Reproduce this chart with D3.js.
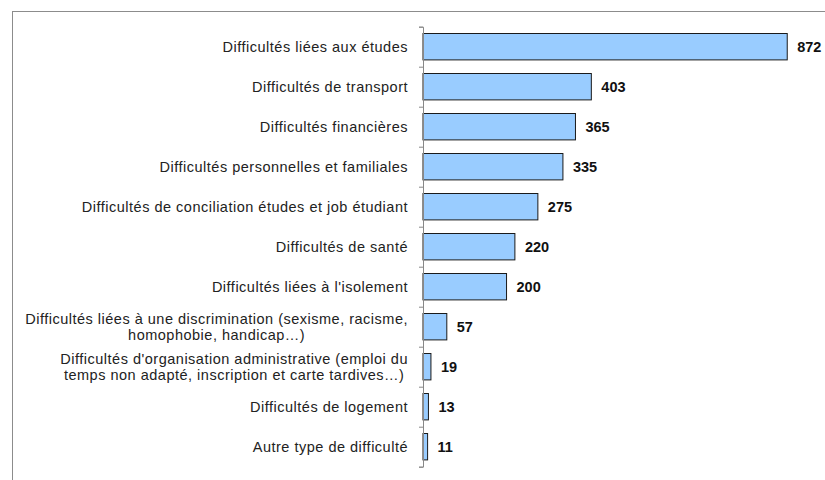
<!DOCTYPE html>
<html><head><meta charset="utf-8">
<script src="https://cdn.jsdelivr.net/npm/d3@7"></script>
<style>body{margin:0;background:#fff;} svg{display:block;}</style>
</head><body>
<svg id="c" width="825" height="480"></svg>
<script>
const categories = [
  ["Difficultés liées aux études"],
  ["Difficultés de transport"],
  ["Difficultés financières"],
  ["Difficultés personnelles et familiales"],
  ["Difficultés de conciliation études et job étudiant"],
  ["Difficultés de santé"],
  ["Difficultés liées à l'isolement"],
  ["Difficultés liées à une discrimination (sexisme, racisme,", "homophobie, handicap…)"],
  ["Difficultés d'organisation administrative (emploi du", "temps non adapté, inscription et carte tardives…)"],
  ["Difficultés de logement"],
  ["Autre type de difficulté"]
];
const values = [872, 403, 365, 335, 275, 220, 200, 57, 19, 13, 11];

const svg = d3.select("#c");
const font = "'Liberation Sans', Arial, sans-serif";
svg.append("rect").attr("x", 12.5).attr("y", 11.5).attr("width", 840).attr("height", 500)
  .attr("fill", "#fff").attr("stroke", "#8c8c8c").attr("stroke-width", 1);

const x0 = 423;
const x = d3.scaleLinear().domain([0, 1000]).range([x0, x0 + 417.7]);
const y = d3.scaleBand().domain(d3.range(categories.length)).range([26.7, 466.7])
  .paddingInner(0.34).paddingOuter(0.17);

const g = svg.append("g");
g.selectAll("rect.bar").data(values).join("rect").attr("class", "bar")
  .attr("x", x(0)).attr("y", (d, i) => y(i)).attr("width", d => x(d) - x(0))
  .attr("height", y.bandwidth()).attr("fill", "#99ccff").attr("stroke", "#1a1a1a").attr("stroke-width", 1);

const axis = d3.axisLeft(d3.scaleLinear().domain([0, categories.length]).range([26.7, 466.7]))
  .ticks(categories.length).tickSize(4).tickFormat("");
const ag = svg.append("g").attr("transform", `translate(${x0},0)`).call(axis);
ag.select(".domain").attr("stroke", "#888");
ag.selectAll(".tick line").attr("stroke", "#888");

g.selectAll("text.val").data(values).join("text").attr("class", "val")
  .attr("x", d => x(d) + 10).attr("y", (d, i) => y(i) + y.bandwidth() / 2)
  .attr("dy", "0.36em").attr("font-family", font).attr("font-weight", "bold")
  .attr("font-size", 14.5).attr("fill", "#111").text(d => d);

const labelRight = 408;
categories.forEach((lines, i) => {
  const cy = y(i) + y.bandwidth() / 2;
  const lh = 16.5;
  const t = svg.append("text").attr("font-family", font).attr("font-size", 14.5)
    .attr("letter-spacing", 0.5).attr("fill", "#222");
  const spans = lines.map((l, k) => t.append("tspan").attr("y", cy + (k - (lines.length - 1) / 2) * lh).attr("dy", "0.36em").text(l));
  if (lines.length === 1) {
    t.attr("text-anchor", "end");
    spans[0].attr("x", labelRight);
  } else {
    const w = d3.max(spans, s => s.node().getComputedTextLength());
    t.attr("text-anchor", "middle");
    spans.forEach(s => s.attr("x", labelRight - w / 2));
  }
});
</script>
</body></html>
